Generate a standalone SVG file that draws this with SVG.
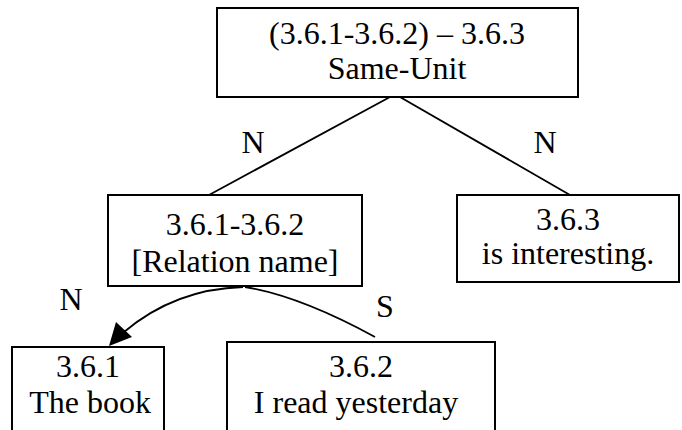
<svg xmlns="http://www.w3.org/2000/svg" width="682" height="430" viewBox="0 0 682 430">
  <style>
    .box { fill: #ffffff; stroke: #000000; stroke-width: 2; }
    .edge { fill: none; stroke: #000000; stroke-width: 1.8; }
    .t { font-family: "Liberation Serif", "Times New Roman", serif; font-size: 32px; fill: #000000; text-anchor: middle; }
  </style>
  <rect width="682" height="430" fill="#ffffff"/>

  <!-- connectors and their N/S labels -->
  <g id="connectors">
    <line class="edge" x1="390" y1="97" x2="209" y2="195"/>
    <line class="edge" x1="400" y1="97" x2="570" y2="195"/>
    <path class="edge" d="M243,287 Q175,289 124,332"/>
    <polygon points="109,346 116,322 132,337" fill="#000000"/>
    <path class="edge" d="M245,287 Q300,296 375,337"/>
    <text class="t" x="253" y="153">N</text>
    <text class="t" x="545" y="153">N</text>
    <text class="t" x="71" y="310">N</text>
    <text class="t" x="385" y="317">S</text>
  </g>

  <!-- root: Same-Unit -->
  <g id="node-root">
    <rect class="box" x="217" y="8" width="361" height="89"/>
    <text class="t" x="397" y="44">(3.6.1-3.6.2) – 3.6.3</text>
    <text class="t" x="397" y="79">Same-Unit</text>
  </g>

  <!-- inner relation -->
  <g id="node-relation">
    <rect class="box" x="108" y="195" width="254" height="91"/>
    <text class="t" x="235" y="235">3.6.1-3.6.2</text>
    <text class="t" x="235" y="272">[Relation name]</text>
  </g>

  <!-- 3.6.3 -->
  <g id="node-363">
    <rect class="box" x="457" y="195" width="222" height="87"/>
    <text class="t" x="568" y="230">3.6.3</text>
    <text class="t" x="568" y="264">is interesting.</text>
  </g>

  <!-- 3.6.1 -->
  <g id="node-361">
    <rect class="box" x="12" y="347" width="152" height="100"/>
    <text class="t" x="88" y="377">3.6.1</text>
    <text class="t" x="90" y="413">The book</text>
  </g>

  <!-- 3.6.2 -->
  <g id="node-362">
    <rect class="box" x="227" y="342" width="268" height="105"/>
    <text class="t" x="361" y="377">3.6.2</text>
    <text class="t" x="356" y="413">I read yesterday</text>
  </g>
</svg>
